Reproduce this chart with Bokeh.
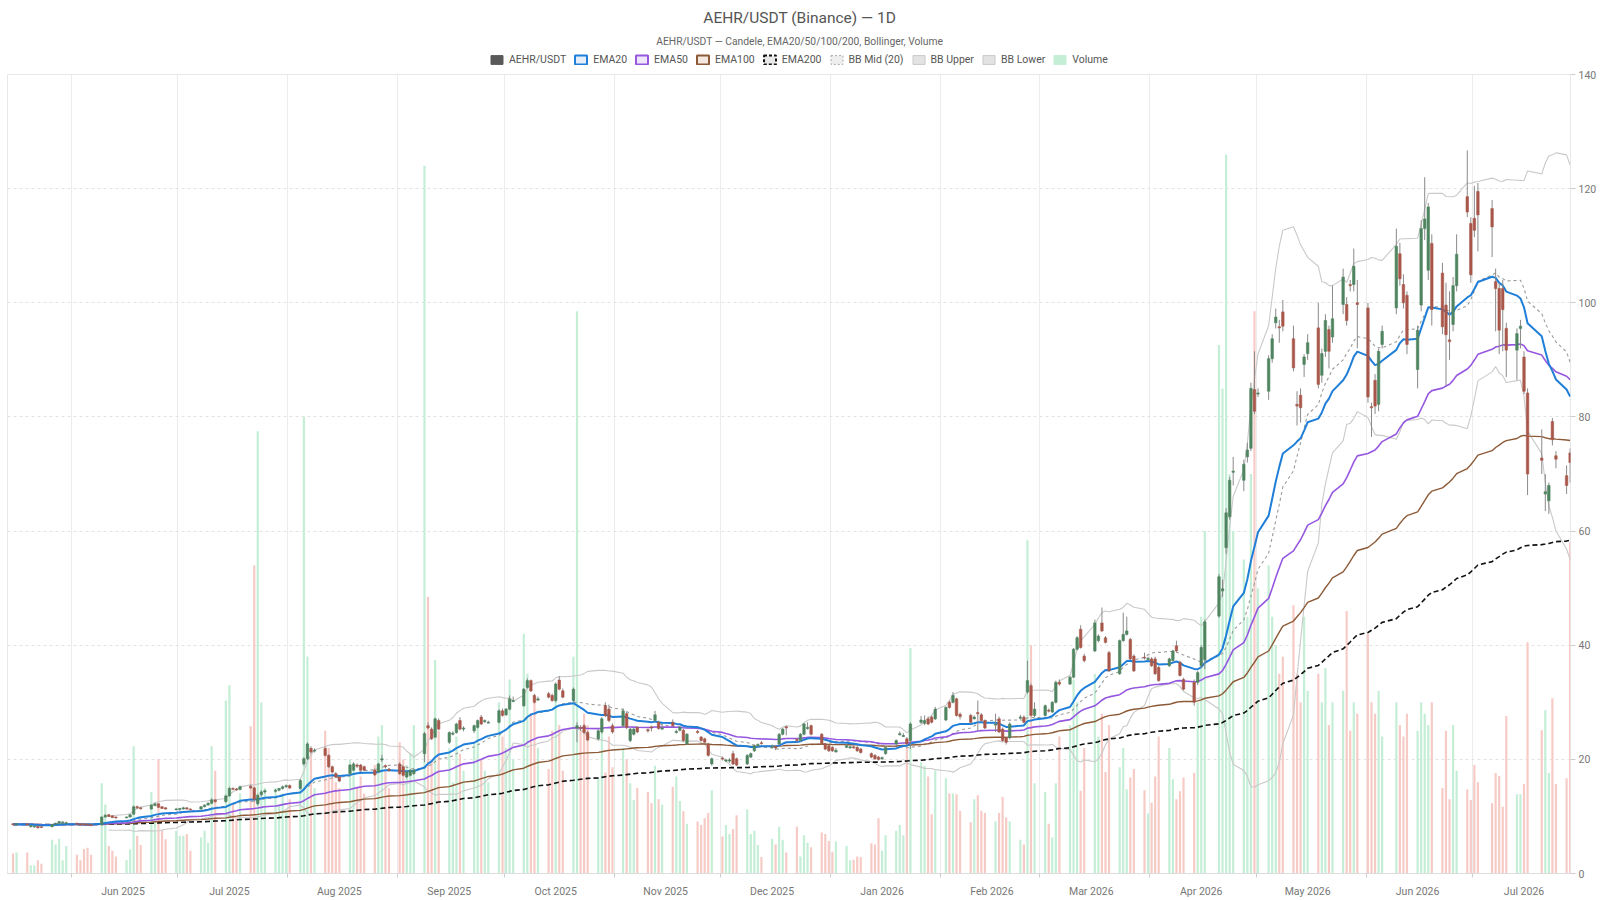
import numpy as np
import pandas as pd
from bokeh.plotting import figure
from bokeh.layouts import column
from bokeh.models import ColumnDataSource, Range1d, FixedTicker, Legend, LegendItem, Label
from bokeh.embed import file_html
from bokeh.resources import INLINE

FONT = "Roboto"
title_text = "AEHR/USDT (Binance) \u2014 1D"
subtitle_text = "AEHR/USDT \u2014 Candele, EMA20/50/100/200, Bollinger, Volume"

first_day = "2025-05-15"
last_day = "2026-07-28"
missing_days = ["2026-04-17", "2026-06-08", "2026-07-03", "2026-07-17"]

open_ = [
    8.7, 8.6,
    8.7, 8.3, 8.2, 8.3, 8.2,
    8.2, 8.6, 8.8, 8.9, 8.8,
    8.8, 8.7, 8.7, 8.6, 8.6,
    8.6, 9.9, 10.3, 10.1, 9.9,
    9.8, 9.9, 10.4, 11.7, 11.5,
    11.3, 11.9, 12.2, 11.7, 11.5,
    11.2, 11.2, 11.3, 11.5, 11.3,
    11.3, 11.7, 12.0, 12.3, 12.9,
    12.6, 13.6, 14.9, 14.8, 14.7,
    15.3, 15.0, 12.2, 13.8, 14.3,
    14.4, 14.6, 14.9, 15.2, 15.4,
    14.9, 19.2, 20.1, 21.9, 21.5,
    21.9, 20.7, 18.7, 17.5, 16.9,
    17.5, 18.1, 19.0, 19.0, 18.7,
    18.1, 17.8, 19.9, 18.9, 18.3,
    19.2, 18.7, 16.9, 17.2, 17.5,
    21.0, 25.9, 25.3, 23.9, 26.8,
    23.0, 24.4, 24.7, 26.8, 25.3,
    25.0, 25.6, 27.4, 26.6, 26.5,
    26.5, 28.5, 27.8, 28.8, 30.3,
    29.4, 32.6, 33.8, 31.2, 30.4,
    31.5, 31.2, 30.3, 33.9, 32.0,
    30.3, 25.5, 25.6, 25.9, 24.7,
    23.6, 24.8, 29.4, 28.8, 25.9,
    25.9, 28.0, 23.3, 24.4, 25.6,
    25.2, 25.7, 26.8, 26.5, 25.3,
    26.5, 24.7, 25.1, 25.1, 22.7,
    24.9, 23.9, 23.6, 22.7, 19.2,
    20.2, 19.7, 19.7, 21.0, 20.1,
    19.2, 20.4, 21.5, 22.4, 22.9,
    22.1, 22.3, 22.7, 24.4, 25.7,
    23.5, 23.3, 24.4, 25.4, 25.9,
    24.4, 22.7, 22.4, 22.1, 21.3,
    22.1, 22.0, 22.2, 22.1, 21.8,
    21.0, 20.7, 20.4, 20.1, 21.0,
    22.7, 24.3, 24.0, 23.6, 23.3,
    26.5, 26.3, 27.1, 27.4, 27.1,
    26.9, 30.0, 30.0, 30.6, 27.9,
    27.7, 27.1, 28.2, 27.8, 26.8,
    26.0, 27.1, 25.3, 23.8, 23.8,
    27.2, 27.4, 31.8, 32.9, 27.7,
    27.7, 28.6, 28.3, 30.0, 33.5,
    33.2, 34.4, 39.3, 42.8, 38.1,
    39.0, 40.8, 43.9, 41.3, 38.7,
    35.0, 40.8, 41.9, 41.0, 38.1,
    37.9, 37.5, 37.6, 37.6, 36.1,
    36.4, 37.3, 39.9, 37.0, 34.0,
    33.5, 33.5, 36.4, 37.5,
    45.1, 49.5, 57.1, 62.5, 70.3,
    68.9, 73.0, 74.5, 84.8, 84.0,
    84.5, 90.2, 96.5, 95.8, 98.4,
    93.7, 82.2, 83.8, 89.2, 91.1,
    95.6, 87.3, 91.5, 95.3, 94.0,
    99.7, 99.7, 103.2, 103.2, 100.0,
    99.1, 81.8, 86.4, 82.2, 92.7,
    99.1, 108.6, 103.2, 101.3,
    88.3, 99.6, 113.0, 105.7, 110.4,
    105.2, 99.6, 93.5, 96.2, 103.0,
    118.6, 113.9, 114.8, 119.5,
    116.5, 103.7, 102.5, 102.5, 95.5,
    91.7, 95.5, 90.5, 84.2,
    72.8, 66.5, 65.3, 79.2, 73.2,
    69.7, 73.7,
]

high = [
    8.8, 8.8,
    8.8, 8.5, 8.4, 8.4, 8.3,
    8.7, 8.9, 9.2, 9.2, 9.1,
    8.9, 8.8, 8.8, 8.7, 8.7,
    10.0, 10.4, 10.4, 10.2, 10.0,
    10.0, 10.4, 11.9, 11.9, 11.7,
    12.1, 12.4, 12.3, 11.8, 11.6,
    11.5, 11.5, 11.7, 11.6, 11.4,
    11.8, 12.1, 12.5, 13.2, 13.0,
    13.8, 15.2, 15.1, 15.0, 15.4,
    15.6, 15.2, 14.0, 14.6, 14.7,
    14.8, 15.0, 15.4, 15.6, 15.6,
    16.6, 20.4, 23.0, 22.3, 21.9,
    22.2, 20.9, 18.9, 17.8, 17.1,
    19.2, 19.5, 19.3, 19.2, 18.9,
    18.4, 19.4, 20.8, 19.1, 18.5,
    19.5, 18.9, 17.9, 18.3, 18.4,
    24.8, 26.5, 25.6, 27.3, 27.2,
    24.9, 24.9, 26.4, 27.4, 25.8,
    26.1, 27.0, 27.8, 27.0, 26.8,
    28.8, 28.9, 29.0, 31.2, 31.0,
    32.5, 34.2, 34.0, 31.5, 31.0,
    31.8, 31.5, 33.5, 34.6, 32.4,
    32.6, 26.5, 26.0, 26.2, 25.0,
    25.3, 27.4, 30.0, 29.6, 26.3,
    28.9, 28.3, 25.5, 25.6, 25.8,
    25.4, 25.9, 28.5, 26.8, 26.1,
    27.0, 25.2, 25.8, 25.4, 24.6,
    25.2, 24.1, 23.8, 22.9, 20.3,
    20.5, 20.1, 20.2, 21.5, 20.3,
    20.9, 21.2, 22.6, 22.8, 23.2,
    22.6, 22.5, 24.6, 25.5, 25.9,
    23.7, 24.6, 26.4, 26.5, 26.1,
    24.6, 22.9, 22.6, 22.3, 22.0,
    22.7, 22.4, 22.4, 22.3, 22.0,
    21.2, 20.9, 20.6, 20.5, 22.3,
    23.5, 24.9, 24.6, 23.9, 26.5,
    27.6, 27.7, 27.5, 27.7, 29.2,
    29.3, 30.3, 31.8, 30.8, 28.2,
    28.0, 27.7, 30.3, 28.1, 27.0,
    28.0, 27.5, 25.6, 24.0, 26.5,
    27.8, 27.7, 37.3, 33.3, 30.0,
    29.6, 28.9, 30.2, 33.8, 34.0,
    34.6, 39.5, 41.6, 43.5, 38.5,
    44.5, 41.9, 46.6, 41.6, 39.0,
    41.0, 45.7, 45.0, 41.3, 38.4,
    38.7, 38.0, 37.9, 38.0, 36.4,
    37.8, 39.2, 40.8, 37.3, 34.3,
    34.0, 35.5, 40.0, 44.5,
    52.5, 51.5, 64.0, 69.5, 73.0,
    72.5, 75.5, 86.0, 91.5, 85.0,
    90.8, 94.5, 99.0, 97.0, 100.5,
    96.0, 84.5, 85.0, 91.0, 94.5,
    100.0, 92.0, 98.0, 96.0, 103.0,
    106.0, 101.0, 104.0, 109.5, 104.0,
    100.0, 82.5, 87.5, 92.0, 96.0,
    113.0, 110.5, 105.0, 102.0,
    96.0, 114.5, 122.0, 117.5, 112.0,
    107.0, 103.5, 102.0, 104.5, 112.0,
    126.7, 115.0, 120.5, 121.0,
    118.0, 106.0, 103.5, 104.0, 96.5,
    95.5, 97.0, 91.5, 85.0,
    77.8, 70.0, 68.5, 79.8, 74.0,
    71.5, 74.5,
]

low = [
    8.5, 8.5,
    8.4, 8.0, 8.0, 7.9, 8.0,
    8.1, 8.5, 8.7, 8.8, 8.7,
    8.5, 8.4, 8.4, 8.4, 8.3,
    8.5, 9.8, 9.9, 9.7, 9.6,
    9.7, 9.8, 10.3, 11.3, 11.2,
    11.2, 11.8, 11.5, 11.3, 11.2,
    11.1, 11.0, 11.2, 11.2, 11.1,
    11.2, 11.6, 11.9, 12.2, 12.4,
    12.4, 13.5, 14.6, 14.5, 14.6,
    14.8, 12.5, 11.9, 13.5, 14.0,
    14.2, 14.4, 14.7, 15.0, 14.8,
    14.7, 18.9, 19.9, 21.0, 21.2,
    20.5, 18.5, 17.6, 16.7, 16.0,
    17.2, 17.9, 18.5, 18.0, 18.0,
    17.1, 17.6, 19.5, 18.4, 17.8,
    17.3, 17.0, 16.7, 17.0, 17.3,
    19.5, 25.3, 23.4, 23.7, 25.1,
    22.7, 24.2, 24.5, 25.1, 24.9,
    24.6, 25.4, 26.0, 26.4, 26.3,
    26.3, 27.5, 27.6, 28.6, 30.0,
    29.2, 32.4, 31.8, 29.8, 30.2,
    30.7, 30.1, 30.0, 32.1, 30.7,
    30.0, 23.0, 25.0, 24.5, 23.2,
    23.3, 24.5, 27.4, 26.5, 24.5,
    25.5, 25.3, 23.0, 24.2, 24.6,
    24.7, 24.9, 26.6, 25.2, 25.2,
    25.7, 24.5, 24.9, 23.1, 22.5,
    24.5, 23.1, 22.8, 20.5, 18.9,
    19.8, 19.5, 19.4, 19.0, 18.8,
    19.0, 20.2, 21.3, 22.1, 22.6,
    22.0, 21.6, 22.5, 24.2, 24.2,
    23.0, 23.1, 24.2, 25.2, 24.2,
    22.5, 21.6, 21.3, 21.3, 21.2,
    22.0, 21.9, 21.9, 21.3, 21.0,
    20.2, 19.9, 19.8, 19.9, 20.8,
    22.5, 24.2, 23.9, 22.5, 21.8,
    26.2, 26.0, 26.0, 26.3, 26.9,
    26.7, 28.9, 29.8, 27.5, 27.0,
    26.3, 27.0, 25.0, 26.6, 25.3,
    24.8, 24.6, 23.1, 22.6, 23.5,
    27.0, 26.3, 31.5, 27.5, 27.4,
    27.5, 28.2, 28.1, 29.8, 32.9,
    33.0, 34.2, 39.1, 39.4, 37.0,
    38.8, 40.5, 42.3, 40.3, 35.3,
    34.8, 40.6, 41.7, 37.4, 35.3,
    37.5, 37.3, 36.2, 34.8, 33.6,
    36.2, 37.1, 38.8, 34.5, 32.1,
    29.4, 33.0, 36.0, 35.8,
    44.8, 48.5, 56.0, 62.0, 68.0,
    67.0, 72.0, 74.0, 80.5, 83.5,
    83.0, 89.5, 95.5, 93.0, 95.0,
    88.0, 78.5, 79.0, 87.0, 90.0,
    85.0, 86.0, 90.5, 88.5, 93.0,
    98.0, 96.0, 102.0, 102.0, 92.0,
    82.5, 76.5, 80.5, 81.0, 92.0,
    98.0, 103.0, 99.0, 91.0,
    85.0, 98.5, 111.0, 104.0, 96.0,
    94.5, 85.5, 90.0, 95.0, 102.0,
    115.0, 103.5, 111.5, 109.0,
    108.0, 95.0, 91.0, 91.5, 87.0,
    86.5, 92.0, 84.0, 66.3,
    70.0, 63.5, 63.0, 75.0, 71.0,
    66.5, 68.5,
]

close = [
    8.6, 8.7,
    8.5, 8.4, 8.3, 8.0, 8.1,
    8.6, 8.8, 9.1, 9.0, 8.9,
    8.6, 8.5, 8.5, 8.5, 8.4,
    9.9, 10.2, 10.0, 9.8, 9.8,
    9.9, 10.3, 11.7, 11.5, 11.4,
    12.0, 12.2, 11.6, 11.4, 11.3,
    11.3, 11.4, 11.5, 11.3, 11.2,
    11.7, 12.0, 12.3, 12.9, 12.6,
    13.6, 14.9, 14.8, 14.7, 15.2,
    15.0, 13.0, 13.7, 14.3, 14.5,
    14.6, 14.9, 15.2, 15.4, 15.0,
    16.3, 20.1, 22.7, 21.3, 21.6,
    20.7, 18.7, 17.8, 16.9, 16.2,
    19.0, 19.2, 18.8, 18.1, 18.1,
    17.3, 19.2, 20.1, 18.7, 18.1,
    17.5, 17.2, 17.8, 18.1, 18.1,
    24.5, 25.5, 23.6, 27.1, 25.3,
    24.7, 24.6, 26.2, 25.3, 25.5,
    25.9, 26.8, 26.2, 26.8, 26.5,
    28.5, 27.7, 28.8, 30.6, 30.3,
    32.3, 33.8, 32.0, 30.0, 30.6,
    30.9, 30.3, 33.2, 32.3, 30.9,
    32.3, 25.9, 25.4, 24.7, 23.4,
    25.0, 27.1, 27.7, 26.8, 24.8,
    28.5, 25.6, 25.3, 25.3, 24.8,
    25.0, 25.5, 27.8, 25.4, 25.5,
    25.9, 24.9, 25.6, 23.3, 24.4,
    24.7, 23.3, 23.0, 20.7, 20.1,
    20.1, 19.9, 19.9, 19.2, 19.0,
    20.7, 21.0, 22.4, 22.6, 22.8,
    22.3, 22.0, 24.4, 25.3, 25.5,
    23.3, 24.4, 26.2, 25.6, 24.4,
    22.7, 21.8, 21.5, 21.5, 21.6,
    22.4, 22.2, 22.0, 21.5, 21.2,
    20.4, 20.1, 20.0, 20.3, 22.1,
    23.3, 24.5, 24.2, 22.7, 26.2,
    26.9, 26.8, 26.2, 26.5, 28.8,
    29.1, 29.1, 31.2, 27.7, 27.5,
    26.5, 27.4, 28.0, 26.8, 25.5,
    26.2, 24.8, 23.3, 23.0, 26.2,
    27.4, 26.5, 33.8, 27.7, 28.8,
    29.4, 28.5, 30.0, 33.5, 33.2,
    34.4, 39.3, 41.3, 39.6, 37.3,
    43.9, 41.6, 42.5, 40.5, 35.5,
    40.8, 41.9, 42.5, 37.6, 35.5,
    37.8, 37.7, 36.4, 35.0, 33.8,
    37.6, 39.0, 39.0, 34.7, 32.3,
    30.0, 35.2, 39.6, 44.1,
    52.0, 49.9, 63.2, 68.9, 70.5,
    71.7, 74.2, 85.0, 81.0, 84.2,
    90.2, 93.7, 97.5, 95.6, 95.9,
    88.6, 81.9, 81.6, 90.5, 93.0,
    85.7, 91.1, 96.9, 91.5, 97.2,
    104.5, 96.9, 103.0, 106.4, 99.7,
    83.5, 81.6, 81.9, 91.5, 95.0,
    109.9, 104.2, 100.0, 92.7,
    95.2, 113.0, 114.7, 116.8, 98.8,
    95.8, 94.4, 93.2, 103.0, 108.5,
    115.9, 104.9, 112.7, 115.4,
    113.3, 102.5, 95.2, 98.8, 91.7,
    94.6, 95.9, 84.5, 70.0,
    72.4, 66.9, 68.0, 76.0, 72.6,
    68.0, 72.0,
]

volume_m = [
    0.35, 0.37,
    0.37, 0.14, 0.14, 0.23, 0.17,
    0.59, 0.51, 0.61, 0.23, 0.48,
    0.33, 0.23, 0.43, 0.45, 0.33,
    1.58, 1.21, 0.48, 0.40, 0.30,
    0.23, 0.42, 2.23, 0.66, 0.50,
    1.43, 0.91, 2.00, 0.75, 0.60,
    0.75, 0.66, 0.66, 0.69, 0.40,
    0.63, 0.75, 0.54, 2.23, 1.80,
    3.03, 3.30, 1.20, 1.00, 1.40,
    2.58, 5.40, 7.75, 3.00, 1.50,
    1.50, 1.20, 1.40, 1.10, 1.30,
    1.60, 8.00, 3.80, 2.20, 1.50,
    2.50, 2.20, 1.80, 1.60, 1.50,
    2.00, 1.80, 1.50, 1.70, 1.40,
    1.90, 2.40, 2.60, 1.80, 1.50,
    2.30, 2.00, 1.90, 2.10, 2.60,
    12.40, 4.85, 2.00, 3.74, 2.50,
    2.20, 1.60, 2.40, 2.10, 1.80,
    2.30, 2.60, 2.00, 1.80, 1.60,
    3.00, 2.40, 2.20, 3.40, 2.00,
    4.20, 3.50, 2.80, 3.00, 2.20,
    1.83, 2.50, 3.20, 2.60, 1.80,
    3.80, 9.85, 2.50, 2.80, 2.60,
    1.67, 2.50, 1.77, 2.40, 1.86,
    2.20, 2.00, 1.58, 1.29, 1.50,
    1.43, 1.23, 1.89, 1.30, 1.21,
    1.52, 1.70, 1.27, 1.09, 0.87,
    0.91, 0.85, 0.97, 1.06, 1.46,
    0.65, 0.85, 0.69, 0.78, 1.02,
    1.12, 0.69, 0.75, 0.50, 0.29,
    0.61, 0.51, 0.82, 0.59, 0.37,
    0.82, 0.30, 0.67, 0.54, 0.46,
    0.72, 0.69, 0.57, 0.38, 0.56,
    0.48, 0.23, 0.24, 0.30, 0.29,
    0.53, 0.51, 0.97, 0.40, 0.67,
    0.75, 0.85, 0.67, 2.20, 3.95,
    1.95, 1.89, 1.70, 1.04, 1.80,
    1.67, 1.40, 1.40, 1.39, 1.10,
    0.90, 1.30, 1.37, 1.10, 1.06,
    0.91, 1.06, 1.34, 0.98, 0.91,
    0.59, 0.51, 5.84, 4.00, 1.58,
    1.43, 0.87, 0.63, 1.58, 2.40,
    2.60, 3.40, 3.00, 1.45, 2.20,
    3.50, 2.40, 2.80, 1.78, 2.60,
    1.86, 2.20, 1.47, 1.68, 1.83,
    1.46, 1.05, 1.24, 1.70, 2.40,
    2.20, 1.65, 1.30, 1.44, 1.68,
    1.76, 3.00, 4.50, 6.00,
    9.26, 8.50, 12.60, 7.00, 6.00,
    5.50, 4.50, 7.00, 9.85, 5.00,
    5.40, 4.50, 4.00, 3.50, 3.80,
    4.70, 3.50, 3.00, 4.50, 3.20,
    3.50, 3.00, 3.60, 2.60, 3.00,
    3.20, 4.60, 2.50, 3.00, 2.80,
    4.20, 3.00, 2.80, 3.20, 2.40,
    3.00, 2.60, 2.40, 2.80,
    2.50, 3.00, 2.80, 2.60, 3.00,
    1.50, 2.50, 1.30, 2.60, 1.80,
    1.47, 1.29, 1.90, 1.60,
    1.23, 1.76, 1.71, 1.17, 2.76,
    1.39, 1.39, 1.57, 4.05,
    2.51, 2.86, 1.76, 3.07, 1.57,
    1.67, 5.80,
]

price_ticks = [0, 20, 40, 60, 80, 100, 120, 140]

# ---------------------------------------------------------------- data prep
dates = pd.bdate_range(first_day, last_day)
dates = dates[~dates.isin(pd.to_datetime(missing_days))]
n = min(len(dates), len(open_), len(high), len(low), len(close), len(volume_m))
dates = dates[:n]
o = np.array(open_[:n], dtype=float)
h = np.array(high[:n], dtype=float)
lo = np.array(low[:n], dtype=float)
c = np.array(close[:n], dtype=float)
v = np.array(volume_m[:n], dtype=float)

DAY = 86400000
xs = (dates.asi8 // 10**6 + DAY // 2).astype(float)

cs = pd.Series(c)
ema20 = cs.ewm(span=20, adjust=False).mean().values
ema50 = cs.ewm(span=50, adjust=False).mean().values
ema100 = cs.ewm(span=100, adjust=False).mean().values
ema200 = cs.ewm(span=200, adjust=False).mean().values
bb_mid = cs.rolling(20).mean()
bb_sd = cs.rolling(20).std(ddof=0)
bb_up = (bb_mid + 2 * bb_sd).values
bb_lo = (bb_mid - 2 * bb_sd).values
bb_mid = bb_mid.values

UP = "#4f8560"
DN = "#a8574a"
VUP = "#c4eed6"
VDN = "#f7cbc5"
C20, C50, C100, C200 = "#1f7fd8", "#9557e0", "#8c5a36", "#111111"
BBC, BBM = "#c9c9c9", "#9a9a9a"

up = c >= o
body_top = np.maximum(o, c)
body_bot = np.minimum(o, c)
body_bot = np.where(body_top - body_bot < 0.15, body_top - 0.15, body_bot)

src = ColumnDataSource(dict(
    x=xs, o=o, h=h, l=lo, c=c, top=body_top, bot=body_bot, vol=v,
    col=np.where(up, UP, DN), vcol=np.where(up, VUP, VDN),
    e20=ema20, e50=ema50, e100=ema100, e200=ema200,
    bm=bb_mid, bu=bb_up, bl=bb_lo,
))

x_start = pd.Timestamp("2025-05-13 22:30").value // 10**6
x_end = pd.Timestamp("2026-07-28 14:30").value // 10**6

month_starts = pd.date_range("2025-06-01", "2026-07-01", freq="MS")
grid_ticks = [int(t.value // 10**6) for t in month_starts]
label_ticks = [int((t + pd.Timedelta(days=14, hours=12)).value // 10**6) for t in month_starts]
label_texts = [t.strftime("%b %Y") for t in month_starts]

# ---------------------------------------------------------------- main figure
p = figure(width=1600, height=834, x_range=Range1d(x_start, x_end), y_range=Range1d(0, 140),
           y_axis_location="right", toolbar_location=None, output_backend="svg",
           min_border_left=7, min_border_right=30, min_border_top=8, min_border_bottom=25,
           background_fill_color="white", border_fill_color="white",
           outline_line_color="#e8e8e8")
p.extra_y_ranges = {"vol": Range1d(0, 14)}

p.vbar(x="x", width=0.62 * DAY, top="vol", bottom=0, fill_color="vcol", line_color=None,
       y_range_name="vol", source=src)

p.line("x", "bu", source=src, line_color=BBC, line_width=1.1)
p.line("x", "bl", source=src, line_color=BBC, line_width=1.1)
p.line("x", "bm", source=src, line_color=BBM, line_width=1.1, line_dash="3 3")
p.line("x", "e200", source=src, line_color=C200, line_width=1.6, line_dash="5 3")
p.line("x", "e100", source=src, line_color=C100, line_width=1.4)
p.line("x", "e50", source=src, line_color=C50, line_width=1.6)
p.line("x", "e20", source=src, line_color=C20, line_width=2.0)

p.segment(x0="x", y0="h", x1="x", y1="l", source=src, line_color="#8a8a8a", line_width=1)
p.vbar(x="x", width=0.7 * DAY, top="top", bottom="bot", fill_color="col", line_color="col",
       line_width=0.6, source=src)

xa = p.xaxis[0]
xa.ticker = FixedTicker(ticks=label_ticks, minor_ticks=grid_ticks)
xa.major_label_overrides = {t: lab for t, lab in zip(label_ticks, label_texts)}
xa.major_tick_line_color = None
xa.major_tick_out = 0
xa.major_tick_in = 0
xa.minor_tick_line_color = "#cccccc"
xa.minor_tick_out = 4
xa.minor_tick_in = 0
xa.axis_line_color = "#dddddd"
xa.major_label_text_font = FONT
xa.major_label_text_font_size = "10.5px"
xa.major_label_text_color = "#777777"
xa.major_label_standoff = 7

ya = p.yaxis[0]
ya.ticker = FixedTicker(ticks=price_ticks)
ya.axis_line_color = None
ya.major_tick_line_color = "#cccccc"
ya.major_tick_out = 5
ya.major_tick_in = 0
ya.minor_tick_line_color = None
ya.major_label_text_font = FONT
ya.major_label_text_font_size = "10.5px"
ya.major_label_text_color = "#777777"
ya.major_label_standoff = 3

p.xgrid.ticker = FixedTicker(ticks=grid_ticks)
p.xgrid.grid_line_color = "#ececec"
p.ygrid.grid_line_color = "#e2e2e2"
p.ygrid.grid_line_dash = "3 3"

# ---------------------------------------------------------------- header (title, subtitle, legend)
HW, HH = 1600, 66
CENTER_X = 811          # compensates the header frame being slightly narrower than the page
hdr = figure(width=HW, height=HH, x_range=Range1d(0, HW), y_range=Range1d(HH, 0),
             toolbar_location=None, output_backend="svg",
             min_border=0, min_border_left=0, min_border_right=0, min_border_top=0, min_border_bottom=0,
             x_axis_location=None, y_axis_location=None, outline_line_color=None,
             background_fill_color="white", border_fill_color="white")
hdr.grid.visible = False
hdr.add_layout(Label(x=CENTER_X, y=17, text=title_text, text_align="center", text_baseline="middle",
                     text_font=FONT, text_font_size="15.5px", text_color="#555555"))
hdr.add_layout(Label(x=CENTER_X, y=41, text=subtitle_text, text_align="center", text_baseline="middle",
                     text_font=FONT, text_font_size="10.3px", text_color="#666666"))

# legend proxies: one hidden point each, placed outside the header's visible range
def swatch(fill, line, lw=1.0, dash="solid"):
    return hdr.rect(x=[-1000], y=[-1000], width=0, height=0, fill_color=fill,
                    line_color=line, line_width=lw, line_dash=dash)

items = [
    LegendItem(label="AEHR/USDT", renderers=[swatch("#595959", "#595959")]),
    LegendItem(label="EMA20", renderers=[swatch("#e3eef9", C20, 2)]),
    LegendItem(label="EMA50", renderers=[swatch("#efe6fa", C50, 2)]),
    LegendItem(label="EMA100", renderers=[swatch("#f2e8e0", C100, 2)]),
    LegendItem(label="EMA200", renderers=[swatch("#e8e8e8", C200, 2, "3 2")]),
    LegendItem(label="BB Mid (20)", renderers=[swatch("#eeeeee", "#aaaaaa", 1, "2 2")]),
    LegendItem(label="BB Upper", renderers=[swatch("#e3e3e3", BBC, 1)]),
    LegendItem(label="BB Lower", renderers=[swatch("#e3e3e3", BBC, 1)]),
    LegendItem(label="Volume", renderers=[swatch(VUP, VUP, 1)]),
]
legend = Legend(items=items, orientation="horizontal", location=(482, 0),
                margin=0, padding=0, spacing=7, label_standoff=5,
                glyph_width=15, glyph_height=11, label_height=11,
                label_text_font=FONT, label_text_font_size="10.5px", label_text_color="#555555",
                border_line_color=None, background_fill_alpha=0)
hdr.add_layout(legend, "center")

layout = column(hdr, p, spacing=0)
open("out.html", "w").write(file_html(layout, INLINE))
